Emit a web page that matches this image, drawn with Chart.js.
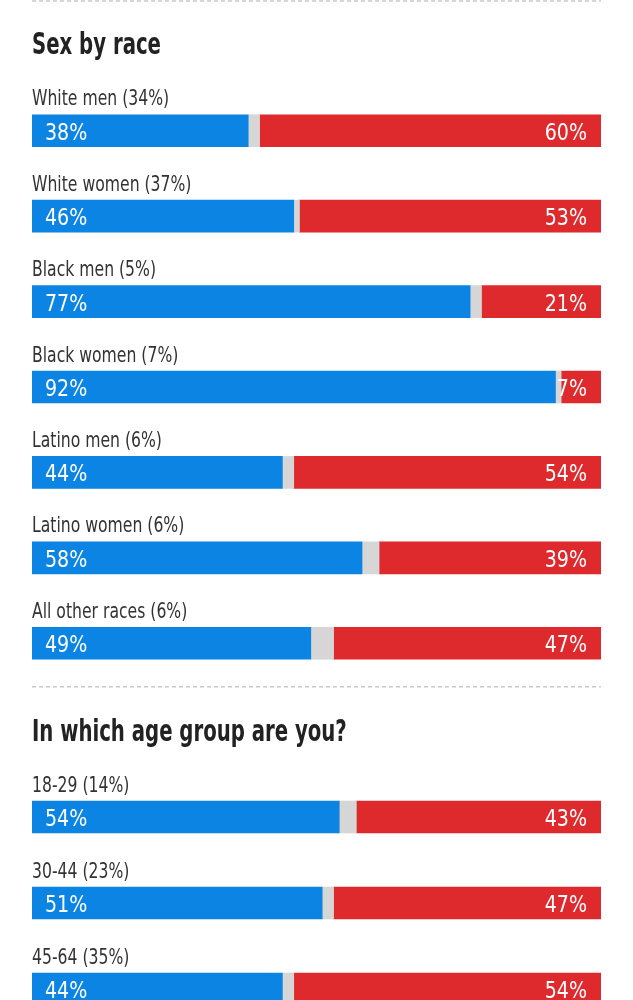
<!doctype html>
<html lang="en">
<head>
  <meta charset="UTF-8" />
  <title>Exit poll bars</title>
  <style>
    html, body { margin: 0; padding: 0; background: #fff; overflow: hidden; }
    .wrap { position: absolute; left: 0; width: 633px; }
    #raceWrap { top: 0; height: 686px; }
    #ageWrap { top: 686px; height: 346px; }
  </style>
</head>
<body>
  <div class="wrap" id="raceWrap"><canvas id="raceChart"></canvas></div>
  <div class="wrap" id="ageWrap"><canvas id="ageChart"></canvas></div>

  <script src="https://cdn.jsdelivr.net/npm/chart.js"></script>
  <script>
    // Sex by race
    const raceTitle = 'Sex by race';
    const raceLabels = ['White men (34%)', 'White women (37%)', 'Black men (5%)', 'Black women (7%)',
      'Latino men (6%)', 'Latino women (6%)', 'All other races (6%)'];
    const raceDem = [38, 46, 77, 92, 44, 58, 49];
    const raceOther = [2, 1, 2, 1, 2, 3, 4];
    const raceRep = [60, 53, 21, 7, 54, 39, 47];

    // Age group
    const ageTitle = 'In which age group are you?';
    const ageLabels = ['18-29 (14%)', '30-44 (23%)', '45-64 (35%)'];
    const ageDem = [54, 51, 44];
    const ageOther = [3, 2, 2];
    const ageRep = [43, 47, 54];

    const BLUE = '#0b84e4';
    const GRAY = '#d6d6d6';
    const RED = '#de292d';
    const FONT = '"DejaVu Sans Condensed", "Liberation Sans Narrow", sans-serif';

    // condensed look: squeeze text horizontally around its anchor
    function squeezeText(ctx, text, x, y, align, sx) {
      ctx.save();
      ctx.translate(x, y);
      ctx.scale(sx, 1);
      ctx.textAlign = align;
      ctx.fillText(text, 0, 0);
      ctx.restore();
    }

    const sectionPlugin = {
      id: 'section',
      afterDatasetsDraw(chart, args, opts) {
        const ctx = chart.ctx;
        const area = chart.chartArea;
        ctx.save();

        // dashed rule
        ctx.strokeStyle = '#c9c9c9';
        ctx.lineWidth = 1.5;
        ctx.setLineDash([4, 3]);
        ctx.beginPath();
        ctx.moveTo(area.left, opts.ruleY);
        ctx.lineTo(area.right, opts.ruleY);
        ctx.stroke();
        ctx.setLineDash([]);

        ctx.textBaseline = 'alphabetic';

        // title
        ctx.fillStyle = '#222';
        ctx.font = 'bold 30px ' + FONT;
        squeezeText(ctx, opts.title, area.left, opts.titleY, 'left', 0.73);

        const demMeta = chart.getDatasetMeta(0);
        const repMeta = chart.getDatasetMeta(2);
        const labels = chart.data.labels;
        demMeta.data.forEach((bar, i) => {
          const top = bar.y - bar.height / 2;
          ctx.fillStyle = '#333';
          ctx.font = '22px ' + FONT;
          squeezeText(ctx, labels[i], area.left, top - 9.5, 'left', 0.79);

          ctx.fillStyle = '#fff';
          ctx.font = '23px ' + FONT;
          squeezeText(ctx, chart.data.datasets[0].data[i] + '%', area.left + 13, bar.y + 9, 'left', 0.92);
          squeezeText(ctx, chart.data.datasets[2].data[i] + '%', area.right - 14, repMeta.data[i].y + 9, 'right', 0.92);
        });
        ctx.restore();
      }
    };

    function buildChart(id, title, labels, dem, other, rep, ruleY, titleY) {
      return new Chart(document.getElementById(id), {
        type: 'bar',
        data: {
          labels,
          datasets: [
            { label: 'Dem', data: dem, backgroundColor: BLUE },
            { label: 'Other', data: other, backgroundColor: GRAY },
            { label: 'Rep', data: rep, backgroundColor: RED }
          ]
        },
        options: {
          indexAxis: 'y',
          responsive: true,
          maintainAspectRatio: false,
          animation: false,
          layout: { padding: { left: 32, right: 32, top: 88, bottom: 0 } },
          datasets: { bar: { barThickness: 32, borderWidth: 0 } },
          scales: {
            x: { stacked: true, min: 0, max: 100, display: false },
            y: { stacked: true, display: false }
          },
          plugins: {
            legend: { display: false },
            tooltip: { enabled: false },
            section: { title, ruleY, titleY }
          }
        },
        plugins: [sectionPlugin]
      });
    }

    buildChart('raceChart', raceTitle, raceLabels, raceDem, raceOther, raceRep, 1, 54);
    buildChart('ageChart', ageTitle, ageLabels, ageDem, ageOther, ageRep, 0.75, 55);
  </script>
</body>
</html>
